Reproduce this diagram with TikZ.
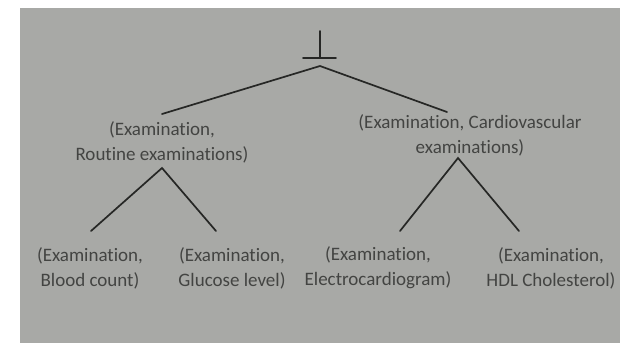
\documentclass[tikz,border=0pt]{standalone}
\usepackage{fontspec}
\setmainfont{Carlito}[Ligatures=NoCommon]
\definecolor{paper}{HTML}{A8A9A6}
\definecolor{ink}{HTML}{434442}
\definecolor{stroke}{HTML}{262725}
\begin{document}
\begin{tikzpicture}[x=1pt,y=-1pt,
  label/.style={text=ink,align=center,inner sep=0pt,
    font=\fontsize{19}{25}\selectfont},
  edge/.style={draw=stroke,line width=1.7pt,line cap=round}]
\useasboundingbox (0,0) rectangle (620,343);
\fill[white] (0,0) rectangle (620,343);
\fill[paper] (20,8) rectangle (620,343);

% bottom symbol at the top of the tree
\draw[edge] (320,31) -- (320,58);
\draw[edge] (303,58) -- (336,58);

% labels
\node[label] (routine) at (162,142) {(Examination,\\Routine examinations)};
\node[label] (cardio)  at (470,135) {(Examination, Cardiovascular\\examinations)};
\node[label] (blood)   at (90,268)  {(Examination,\\Blood count)};
\node[label] (glucose) at (232,268) {(Examination,\\Glucose level)};
\node[label] (ecg)     at (378,268) {(Examination,\\Electrocardiogram)};
\node[label] (hdl)     at (551,268) {(Examination,\\HDL Cholesterol)};

% branch points and line ends
\coordinate (root) at (320,66);
\coordinate (rootL) at (162,114);
\coordinate (rootR) at (447,112);
\coordinate (routineTop) at (162,168);
\coordinate (bloodEnd) at (91,231);
\coordinate (glucoseEnd) at (216,231);
\coordinate (cardioTop) at (458,158);
\coordinate (ecgEnd) at (400,231);
\coordinate (hdlEnd) at (519,231);

\draw[edge] (rootL) -- (root) -- (rootR);
\draw[edge] (bloodEnd) -- (routineTop) -- (glucoseEnd);
\draw[edge] (ecgEnd) -- (cardioTop) -- (hdlEnd);
\end{tikzpicture}
\end{document}
